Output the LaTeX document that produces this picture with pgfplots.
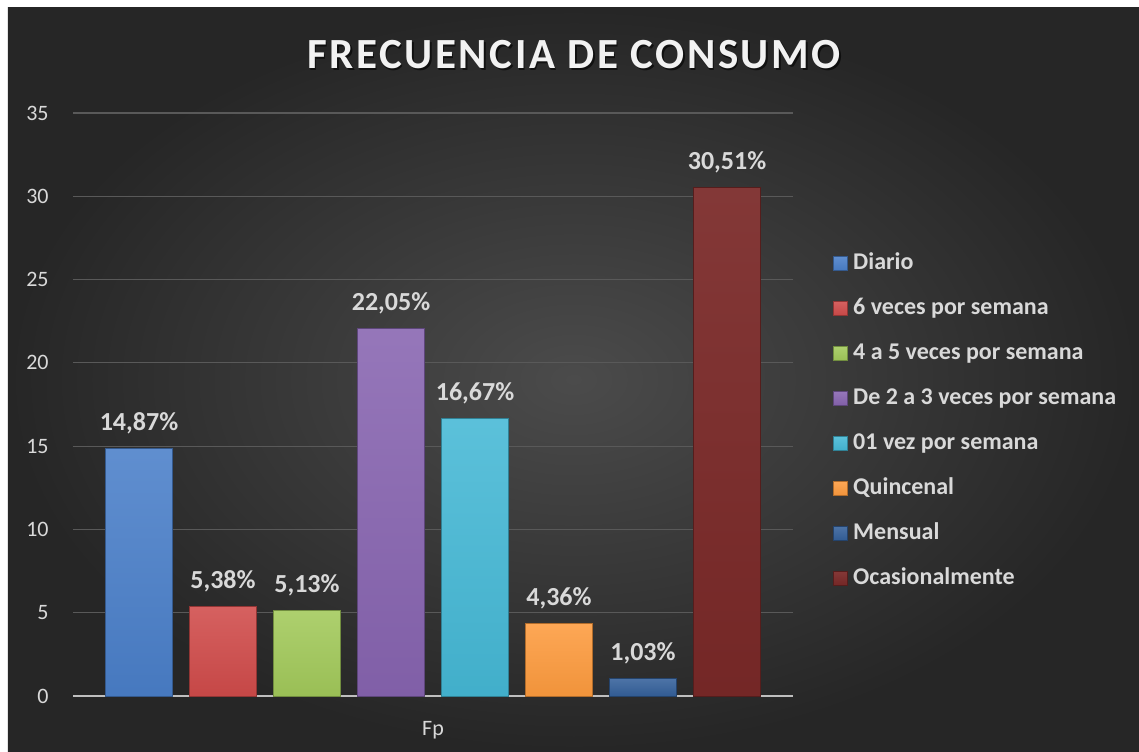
\documentclass[border=0pt]{standalone}
\usepackage{fontspec}
\setmainfont{Carlito}
\newfontfamily\titlefont[LetterSpace=6]{Carlito}
\usepackage{pgfplots}
\pgfplotsset{compat=1.18}
\definecolor{bgin}{HTML}{4B4B4B}
\definecolor{bgout}{HTML}{262626}
\definecolor{lgray}{HTML}{D9D9D9}
\definecolor{gridc}{HTML}{595959}
\definecolor{axisc}{HTML}{BFBFBF}
\definecolor{cBlue}{HTML}{4A7FC9}
\definecolor{cRed}{HTML}{D04B4A}
\definecolor{cGreen}{HTML}{A2C95A}
\definecolor{cPurple}{HTML}{8764B0}
\definecolor{cCyan}{HTML}{45B8D5}
\definecolor{cOrange}{HTML}{FD9B3E}
\definecolor{cNavy}{HTML}{34609A}
\definecolor{cDRed}{HTML}{7A2928}
\begin{document}
\begin{tikzpicture}
\fill[white] (-36.5pt,-27.5pt) rectangle (533pt,348pt);
\shade[inner color=bgin, outer color=bgout] (-32.5pt,-27.5pt) rectangle (533pt,344pt);
\begin{axis}[
  at={(0pt,0pt)}, anchor=south west,
  scale only axis, width=360pt, height=291.5pt,
  xmin=-0.5, xmax=0.5, ymin=0, ymax=35,
  ybar=8.5pt, bar width=33.5pt,
  xtick={0}, xticklabels={Fp},
  ytick={0,5,...,35},
  major tick length=0pt,
  axis x line*=bottom, axis y line*=left,
  x axis line style={draw=axisc, line width=1pt, -},
  y axis line style={draw=none},
  ymajorgrids, grid style={draw=gridc, line width=0.6pt},
  /pgf/number format/assume math mode=true,
  tick label style={font=\fontsize{11}{13}\selectfont, text=lgray},
  yticklabel style={anchor=east, inner sep=0pt, xshift=-12pt},
  xticklabel style={anchor=base, inner sep=0pt, yshift=-19.5pt},
  nodes near coords={\pgfmathprintnumber[fixed,fixed zerofill,precision=2,use comma]{\pgfplotspointmeta}\%},
  every node near coord/.append style={anchor=base, yshift=9pt, inner sep=0pt, text=lgray, font=\bfseries\fontsize{13}{15}\selectfont},
  legend image code/.code={\fill[#1] (0pt,-3.5pt) rectangle (7pt,3.5pt);},
  legend cell align=left,
  legend style={at={(1.0556,0.4717)}, anchor=west, draw=none, fill=none, inner sep=0pt,
    font=\bfseries\fontsize{12}{14}\selectfont, text=lgray, row sep=12pt, column sep=2.5pt,
    nodes={inner sep=0pt, text height=8pt, text depth=2.5pt}},
  clip=false,
]
\addplot[fill=cBlue, draw=cBlue!70!black, top color=cBlue!88!white, bottom color=cBlue!95!black] coordinates {(0,14.87)};
\addplot[fill=cRed, draw=cRed!70!black, top color=cRed!88!white, bottom color=cRed!95!black] coordinates {(0,5.38)};
\addplot[fill=cGreen, draw=cGreen!70!black, top color=cGreen!88!white, bottom color=cGreen!95!black] coordinates {(0,5.13)};
\addplot[fill=cPurple, draw=cPurple!70!black, top color=cPurple!88!white, bottom color=cPurple!95!black] coordinates {(0,22.05)};
\addplot[fill=cCyan, draw=cCyan!70!black, top color=cCyan!88!white, bottom color=cCyan!95!black] coordinates {(0,16.67)};
\addplot[fill=cOrange, draw=cOrange!70!black, top color=cOrange!88!white, bottom color=cOrange!95!black] coordinates {(0,4.36)};
\addplot[fill=cNavy, draw=cNavy!70!black, top color=cNavy!88!white, bottom color=cNavy!95!black] coordinates {(0,1.03)};
\addplot[fill=cDRed, draw=cDRed!70!black, top color=cDRed!93!white, bottom color=cDRed!95!black] coordinates {(0,30.51)};
\legend{Diario,6 veces por semana,4 a 5 veces por semana,De 2 a 3 veces por semana,01 vez por semana,Quincenal,Mensual,Ocasionalmente}
\end{axis}
\node[font=\titlefont\bfseries\fontsize{21.5}{25}\selectfont, text=black, text opacity=0.6] at (251.3pt,319.7pt) {FRECUENCIA DE CONSUMO};
\node[font=\titlefont\bfseries\fontsize{21.5}{25}\selectfont, text=white!95!black] at (250.5pt,320.5pt) {FRECUENCIA DE CONSUMO};
\end{tikzpicture}
\end{document}
